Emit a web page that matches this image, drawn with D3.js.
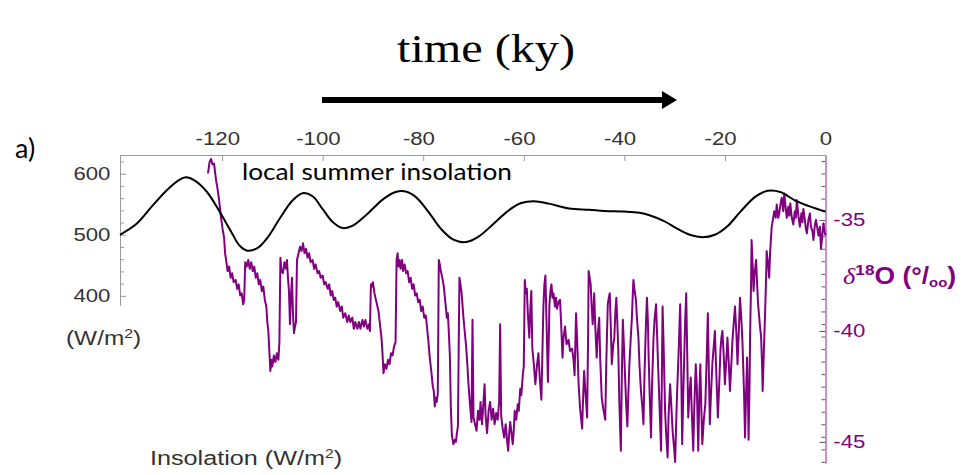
<!DOCTYPE html>
<html>
<head>
<meta charset="utf-8">
<title>Insolation and d18O</title>
<style>
  body {margin: 0; background: #fff;}
  svg {display: block;}
  .tick text {font-family: "Liberation Sans", Arial, sans-serif;}
</style>
</head>
<body>
<svg id="chart" width="964" height="475"></svg>
<script src="https://cdn.jsdelivr.net/npm/d3@7/dist/d3.min.js"></script>
<script>
// time axis (ky) and tick labels
var timeTicks = [-120, -100, -80, -60, -40, -20, 0];
var insTicks = [400, 500, 600];
var insMinor = [420, 440, 460, 480, 520, 540, 560, 580, 620];
var d18Ticks = [-35, -40, -45];

// local summer insolation, W/m2  [age ky, value]
var insolation = [
  [-140.3,500],[-137,518],[-134,546],[-131,573],[-128.5,590],[-127.2,594],[-125.5,589],
  [-123,570],[-120.5,538],[-118,502],[-116.5,482],[-115,474],[-113,478],[-111,495],
  [-108.5,527],[-106,556],[-104,568],[-102,563],[-100,542],[-98,521],[-96,511],[-94,515],
  [-91,535],[-88,558],[-85.5,570],[-83.5,571],[-81.5,562],[-79,538],[-76.5,510],[-74,492],
  [-71.5,488],[-69,497],[-66,518],[-63,540],[-60.5,552],[-58,555],[-55,551],[-51,543],
  [-47,541],[-44,539],[-40,538],[-37,536],[-35,532],[-32,522],[-29.5,510],[-27,500],
  [-24.5,496],[-22,500],[-19.5,514],[-17,537],[-14,562],[-11.5,572],[-9,570],[-6,556],
  [-3,546],[0,538]
];

// NGRIP-like d18O record, permil  [age ky, value]
var d18O = [
  [-122.8,-32.9],[-122.5,-32.4],[-122.2,-32.25],[-121.9,-32.5],[-121.6,-32.45],[-121.2,-33.2],[-120.9,-33.6],
  [-120.6,-34.1],[-120.2,-34.9],[-119.9,-35.4],[-119.6,-35.8],[-119.4,-36.5],[-119.2,-36.8],[-118.9,-37.3],
  [-118.6,-37.1],[-118.3,-37.6],[-118.0,-37.4],[-117.7,-37.8],[-117.3,-37.7],[-117.0,-38.1],[-116.7,-37.9],
  [-116.4,-38.4],[-116.1,-38.3],[-115.8,-38.8],[-115.6,-38.6],
  [-115.4,-36.9],[-115.1,-37.1],[-114.8,-36.8],[-114.5,-37.2],[-114.2,-36.9],[-113.9,-37.3],[-113.6,-37.1],
  [-113.3,-37.6],[-113.0,-37.4],[-112.7,-37.9],[-112.4,-37.7],[-112.1,-38.2],[-111.8,-38.0],[-111.5,-38.6],
  [-111.2,-38.9],[-111.0,-39.6],[-110.8,-40.0],[-110.6,-40.9],[-110.4,-41.8],[-110.2,-41.3],[-110.0,-41.6],
  [-109.7,-41.1],[-109.4,-41.4],[-109.1,-41.0],[-108.8,-41.3],[-108.6,-40.5],
  [-108.4,-36.7],[-108.2,-37.3],[-107.9,-37.4],[-107.6,-36.9],[-107.3,-37.2],[-107.1,-36.8],[-106.9,-37.6],
  [-106.7,-38.2],[-106.5,-39.7],[-106.3,-38.4],[-106.1,-37.6],[-105.9,-39.2],[-105.7,-40.1],[-105.5,-39.8],
  [-105.3,-39.6],[-105.1,-36.8],[-104.8,-36.5],[-104.5,-36.2],[-104.2,-36.4],[-103.9,-36.05],[-103.6,-36.5],
  [-103.3,-36.3],[-103.0,-36.7],[-102.7,-36.5],[-102.4,-36.9],[-102.0,-36.8],[-101.7,-37.2],[-101.4,-37.0],
  [-101.0,-37.4],[-100.7,-37.3],[-100.4,-37.6],[-100.0,-37.5],[-99.7,-37.9],[-99.4,-37.8],
  [-99.0,-38.1],[-98.7,-37.9],[-98.4,-38.4],[-98.1,-38.2],[-97.8,-38.6],[-97.5,-38.5],[-97.2,-38.9],
  [-96.9,-38.7],[-96.5,-39.1],[-96.2,-38.9],[-95.9,-39.4],[-95.5,-39.2],[-95.1,-39.6],[-94.8,-39.3],
  [-94.5,-39.6],[-94.1,-39.4],[-93.8,-39.9],[-93.5,-39.6],[-93.1,-39.9],[-92.8,-39.6],[-92.5,-39.9],
  [-92.1,-39.5],[-91.8,-39.8],[-91.5,-39.5],[-91.1,-39.9],[-90.8,-39.7],[-90.6,-40.0],
  [-90.4,-37.9],[-90.2,-38.0],[-90.0,-37.8],[-89.7,-38.3],[-89.5,-38.5],[-89.2,-38.8],[-88.9,-39.1],
  [-88.6,-39.7],[-88.3,-40.3],[-88.1,-41.0],[-87.9,-41.9],[-87.6,-41.5],[-87.3,-41.7],[-87.0,-41.3],
  [-86.7,-41.5],[-86.4,-41.0],[-86.1,-41.1],[-85.8,-40.7],[-85.5,-40.5],
  [-85.3,-36.8],[-85.1,-36.5],[-84.9,-37.1],[-84.7,-36.8],[-84.5,-37.2],[-84.2,-36.8],[-84.0,-37.3],
  [-83.7,-37.0],[-83.4,-37.4],[-83.1,-37.3],[-82.8,-37.8],[-82.5,-37.6],[-82.2,-38.1],[-81.9,-37.9],
  [-81.6,-38.4],[-81.3,-38.3],[-81.0,-38.7],[-80.7,-38.6],[-80.4,-39.1],[-80.1,-38.9],[-79.8,-39.4],
  [-79.5,-39.3],[-79.3,-39.7],[-79.0,-40.4],[-78.7,-41.2],[-78.4,-41.8],[-78.1,-42.5],[-77.9,-42.7],
  [-77.7,-43.4],[-77.5,-43.0],[-77.3,-43.2],[-77.1,-42.8],
  [-76.9,-36.8],[-76.7,-37.0],[-76.5,-37.3],[-76.2,-37.6],[-75.9,-38.0],[-75.6,-38.7],[-75.3,-39.4],
  [-75.1,-39.2],[-74.9,-40.1],[-74.7,-41.1],[-74.5,-43.5],[-74.3,-44.7],[-74.0,-45.1],[-73.7,-44.9],
  [-73.5,-45.0],[-73.3,-44.6],[-73.1,-44.3],
  [-72.8,-37.6],[-72.6,-37.9],[-72.4,-38.2],[-72.2,-38.8],[-72.0,-39.4],[-71.8,-39.9],[-71.5,-40.6],
  [-71.2,-41.6],[-71.0,-42.4],[-70.7,-43.3],[-70.4,-44.1],[-70.2,-39.5],[-70.0,-43.9],[-69.7,-44.2],
  [-69.4,-44.5],[-69.1,-43.6],[-68.8,-44.0],[-68.6,-43.2],[-68.3,-44.2],[-68.1,-43.5],[-67.8,-42.4],
  [-67.6,-43.8],[-67.3,-44.6],[-67.0,-43.6],[-66.7,-43.2],[-66.4,-44.0],[-66.1,-43.5],[-65.8,-44.2],
  [-65.5,-43.7],[-65.2,-44.0],[-64.9,-43.2],[-64.7,-39.7],[-64.5,-43.8],[-64.2,-44.4],[-63.9,-44.8],
  [-63.6,-44.2],[-63.3,-45.0],[-63.1,-45.4],[-62.9,-44.6],[-62.7,-44.1],[-62.4,-44.7],[-62.2,-45.1],
  [-62.0,-44.5],[-61.8,-43.6],[-61.5,-44.0],[-61.2,-43.3],[-61.0,-43.6],[-60.7,-42.6],[-60.5,-42.9],
  [-60.2,-42.0],[-60.0,-41.6],
  [-59.8,-37.7],[-59.6,-38.3],[-59.4,-38.1],[-59.2,-39.2],[-58.9,-40.3],[-58.7,-39.0],[-58.5,-38.2],
  [-58.3,-40.8],[-58.0,-41.5],[-57.7,-42.4],[-57.4,-41.6],[-57.1,-41.0],[-56.8,-42.2],[-56.5,-43.1],
  [-56.3,-41.0],[-56.1,-38.9],[-55.9,-37.9],[-55.7,-37.5],[-55.5,-39.4],[-55.2,-42.3],[-55.0,-40.1],
  [-54.9,-38.8],[-54.7,-38.2],[-54.5,-37.9],[-54.3,-38.5],[-54.1,-38.3],[-53.8,-38.9],[-53.6,-38.5],
  [-53.4,-39.0],[-53.1,-38.7],[-52.8,-38.6],[-52.6,-39.5],[-52.3,-41.2],[-52.1,-40.3],[-51.8,-39.8],
  [-51.5,-40.6],[-51.1,-40.4],[-50.8,-40.9],[-50.4,-40.8],[-50.1,-41.3],[-49.9,-42.0],
  [-49.6,-39.2],[-49.3,-41.0],[-49.1,-42.4],[-48.8,-43.5],[-48.4,-44.4],[-48.2,-43.0],[-48.0,-41.8],
  [-47.7,-42.9],[-47.4,-43.9],[-47.2,-40.0],[-47.1,-37.3],[-46.9,-37.6],[-46.7,-37.9],[-46.5,-38.9],
  [-46.3,-39.7],[-46.1,-38.9],[-46.0,-38.3],[-45.8,-39.7],[-45.5,-41.2],[-45.3,-40.2],[-45.0,-39.4],
  [-44.8,-41.3],[-44.5,-43.0],[-44.2,-43.5],[-43.8,-44.0],[-43.6,-41.5],[-43.3,-38.8],[-43.1,-38.5],
  [-42.9,-38.3],[-42.7,-39.8],[-42.5,-41.5],[-42.2,-40.6],[-42.0,-40.3],[-41.8,-39.2],[-41.6,-38.5],
  [-41.4,-39.6],[-41.2,-40.9],[-41.0,-43.2],[-40.7,-45.4],[-40.5,-42.0],[-40.3,-39.5],[-40.1,-40.6],
  [-39.8,-42.4],[-39.6,-43.5],[-39.4,-44.3],[-39.2,-42.8],[-39.0,-41.5],[-38.7,-40.2],[-38.5,-39.4],
  [-38.3,-38.2],[-38.2,-37.7],[-38.0,-38.1],[-37.7,-38.6],[-37.5,-39.4],[-37.2,-40.3],[-37.0,-41.5],
  [-36.7,-42.7],[-36.4,-43.5],[-36.2,-44.2],[-36.0,-42.0],[-35.7,-39.6],[-35.5,-38.5],[-35.3,-39.7],
  [-35.2,-40.9],[-35.0,-42.6],[-34.7,-44.8],[-34.5,-42.5],[-34.2,-40.3],[-34.0,-39.5],[-33.7,-38.8],
  [-33.5,-40.1],[-33.3,-41.5],[-33.0,-43.4],[-32.7,-45.4],[-32.5,-41.2],[-32.4,-38.9],[-32.2,-40.6],
  [-31.9,-43.6],[-31.7,-44.6],[-31.4,-45.7],[-31.2,-43.8],[-30.9,-42.4],[-30.7,-43.2],[-30.4,-44.5],
  [-30.1,-45.3],[-29.9,-45.9],[-29.7,-44.2],[-29.5,-42.7],[-29.2,-40.9],[-28.9,-38.8],[-28.7,-41.6],
  [-28.5,-45.1],[-28.3,-43.0],[-28.1,-41.2],[-27.9,-39.5],[-27.7,-38.3],[-27.5,-41.0],[-27.3,-43.9],
  [-27.1,-43.0],[-26.8,-42.1],[-26.6,-43.6],[-26.3,-45.4],[-26.1,-43.5],[-25.8,-41.5],[-25.6,-42.4],
  [-25.3,-45.4],[-25.1,-43.0],[-24.9,-41.5],[-24.7,-43.4],[-24.5,-45.1],[-24.2,-44.0],[-23.9,-43.3],
  [-23.6,-41.0],[-23.4,-39.2],[-23.2,-41.8],[-23.0,-44.2],[-22.8,-43.0],[-22.5,-41.5],[-22.2,-40.6],
  [-22.0,-40.0],[-21.7,-42.0],[-21.4,-43.9],[-21.1,-42.2],[-20.9,-40.9],[-20.7,-40.3],[-20.5,-40.0],
  [-20.2,-41.3],[-20.0,-42.4],[-19.7,-41.2],[-19.5,-40.3],[-19.2,-41.6],[-19.0,-42.7],[-18.7,-41.4],
  [-18.5,-40.4],[-18.2,-39.5],[-18.0,-38.9],[-17.7,-40.2],[-17.5,-41.5],[-17.2,-39.8],[-17.0,-38.5],
  [-16.7,-39.6],[-16.5,-40.6],[-16.2,-42.8],[-16.0,-44.8],[-15.8,-42.9],[-15.6,-41.2],[-15.4,-43.2],
  [-15.3,-44.9],[-15.1,-42.4],[-15.0,-40.3],[-14.8,-37.8],[-14.7,-35.9],[-14.5,-37.0],[-14.3,-38.2],
  [-14.1,-37.4],[-13.8,-36.8],[-13.6,-37.9],[-13.4,-38.8],[-13.1,-39.6],[-12.8,-40.3],[-12.6,-41.6],
  [-12.5,-42.7],[-12.3,-41.2],[-12.0,-39.1],[-11.8,-37.5],[-11.7,-36.4],[-11.4,-37.0],[-11.2,-37.6],
  [-11.0,-36.4],[-10.7,-35.3],[-10.4,-34.9],[-10.2,-34.6],[-9.9,-34.9],[-9.7,-34.3],[-9.4,-34.9],
  [-9.2,-34.7],[-8.9,-34.2],[-8.7,-34.0],[-8.4,-34.6],[-8.2,-33.8],[-7.9,-34.5],[-7.7,-34.9],
  [-7.4,-34.4],[-7.2,-34.8],[-7.0,-34.25],[-6.7,-34.9],[-6.4,-35.2],[-6.1,-34.6],[-5.9,-34.9],
  [-5.7,-34.1],[-5.4,-34.8],[-5.1,-35.3],[-4.8,-34.7],[-4.6,-35.1],[-4.4,-34.5],[-4.1,-35.0],
  [-3.9,-35.4],[-3.7,-35.6],[-3.4,-35.0],[-3.1,-34.7],[-2.9,-35.3],[-2.6,-35.5],[-2.4,-35.9],
  [-2.1,-35.2],[-1.9,-35.0],[-1.6,-35.4],[-1.4,-35.7],[-1.1,-35.3],[-0.9,-36.3],[-0.6,-35.6],
  [-0.4,-35.15],[-0.2,-35.5],[0,-35.7]
];

var svg = d3.select("#chart");
var purple = "#800080";

var x = d3.scaleLinear().domain([-140.3, 0]).range([120, 825.5]);
var yIns = d3.scaleLinear().domain([385, 630.6]).range([305, 155]);
var yO = d3.scaleLinear().domain([-32.07, -45.95]).range([155, 463]);

// title + arrow
svg.append("text")
   .attr("x", 397).attr("y", 62)
   .attr("textLength", 178).attr("lengthAdjust", "spacingAndGlyphs")
   .style("font-family", "'Liberation Serif', 'Times New Roman', serif")
   .style("font-size", "40px")
   .text("time (ky)");
svg.append("line")
   .attr("x1", 322).attr("x2", 664).attr("y1", 100).attr("y2", 100)
   .attr("stroke", "#000").attr("stroke-width", 6);
svg.append("path")
   .attr("d", "M662,91L677,100L662,109Z")
   .attr("fill", "#000");

svg.append("text")
   .attr("x", 15).attr("y", 158)
   .style("font-family", "Lato, sans-serif").style("font-size", "27px")
   .text("a)");

// top time axis
var gTop = svg.append("g").attr("transform", "translate(0,155)")
   .call(d3.axisTop(x).tickValues(timeTicks).tickSize(-6).tickSizeOuter(0)
         .tickPadding(10).tickFormat(function(d){return String(d);}));
gTop.select(".domain").attr("stroke", "#999");
gTop.selectAll(".tick line").attr("stroke", "#999");
gTop.selectAll(".tick text").attr("fill", "#333").style("font-size", "18.5px")
   .attr("dx", function(d){return d < 0 ? -4 : 0;})
   .attr("transform", "scale(1.2,1)");

// left insolation axis
var gLeft = svg.append("g").attr("transform", "translate(120,0)");
gLeft.call(d3.axisLeft(yIns).tickValues(insMinor).tickSize(-4).tickSizeOuter(0).tickFormat(""));
gLeft.append("g")
   .call(d3.axisLeft(yIns).tickValues(insTicks).tickSize(-6).tickSizeOuter(0).tickPadding(8)
         .tickFormat(function(d){return String(d);}));
gLeft.selectAll(".domain").attr("stroke", "#999");
gLeft.selectAll(".tick line").attr("stroke", "#999");
gLeft.selectAll(".tick text").attr("fill", "#333").style("font-size", "18.5px")
   .attr("transform", "scale(1.2,1)");

// right d18O axis
var gRight = svg.append("g").attr("transform", "translate(825.5,0)");
gRight.call(d3.axisRight(yO).tickValues(d3.range(-45.9, -32.1, 0.565)).tickSize(-4)
            .tickSizeOuter(0).tickFormat(""));
gRight.append("g")
   .call(d3.axisRight(yO).tickValues(d18Ticks).tickSize(-6).tickSizeOuter(0).tickPadding(6.5)
         .tickFormat(function(d){return String(d);}));
gRight.selectAll(".domain").attr("stroke", "#c68ac6").attr("stroke-width", 1.5);
gRight.selectAll(".tick line").attr("stroke", "#6a4a6a");
gRight.selectAll(".tick text").attr("fill", purple).style("font-size", "18.5px")
   .attr("transform", "scale(1.2,1)");

// curves
var lineO = d3.line().x(function(d){return x(d[0]);}).y(function(d){return yO(d[1]);});
svg.append("path").datum(d18O)
   .attr("d", lineO)
   .attr("fill", "none").attr("stroke", purple)
   .attr("stroke-width", 2).attr("stroke-linejoin", "round");

var lineIns = d3.line().x(function(d){return x(d[0]);}).y(function(d){return yIns(d[1]);})
   .curve(d3.curveCatmullRom.alpha(0.5));
svg.append("path").datum(insolation)
   .attr("d", lineIns)
   .attr("fill", "none").attr("stroke", "#000").attr("stroke-width", 2);

svg.append("text")
   .attr("x", 242).attr("y", 180)
   .attr("textLength", 270).attr("lengthAdjust", "spacingAndGlyphs")
   .style("font-family", "Lato, sans-serif").style("font-size", "23px")
   .text("local summer insolation");

// left unit labels
var unit = svg.append("text")
   .attr("transform", "translate(66,345) scale(1.22,1)")
   .style("font-family", "'Liberation Sans', Arial, sans-serif")
   .style("font-size", "20px").attr("fill", "#333");
unit.append("tspan").text("(W/m");
unit.append("tspan").attr("baseline-shift", "super").style("font-size", "13px").text("2");
unit.append("tspan").text(")");

var insLabel = svg.append("text")
   .attr("transform", "translate(150,465) scale(1.2,1)")
   .style("font-family", "'Liberation Sans', Arial, sans-serif")
   .style("font-size", "21px").attr("fill", "#333");
insLabel.append("tspan").text("Insolation (W/m");
insLabel.append("tspan").attr("baseline-shift", "super").style("font-size", "13px").text("2");
insLabel.append("tspan").text(")");

// right axis title
var oTitle = svg.append("text")
   .attr("transform", "translate(843,284) scale(1.15,1)")
   .attr("fill", purple)
   .style("font-family", "'Liberation Sans', Arial, sans-serif")
   .style("font-size", "23px").style("font-weight", "bold");
oTitle.append("tspan")
   .style("font-family", "'Liberation Serif', serif").style("font-style", "italic")
   .style("font-weight", "normal").text("δ");
oTitle.append("tspan").attr("dy", -9).style("font-size", "15px").text("18");
oTitle.append("tspan").attr("dy", 9).text("O (°/");
oTitle.append("tspan").attr("dy", 3).style("font-size", "13px").text("oo");
oTitle.append("tspan").attr("dy", -3).text(")");
</script>
</body>
</html>
